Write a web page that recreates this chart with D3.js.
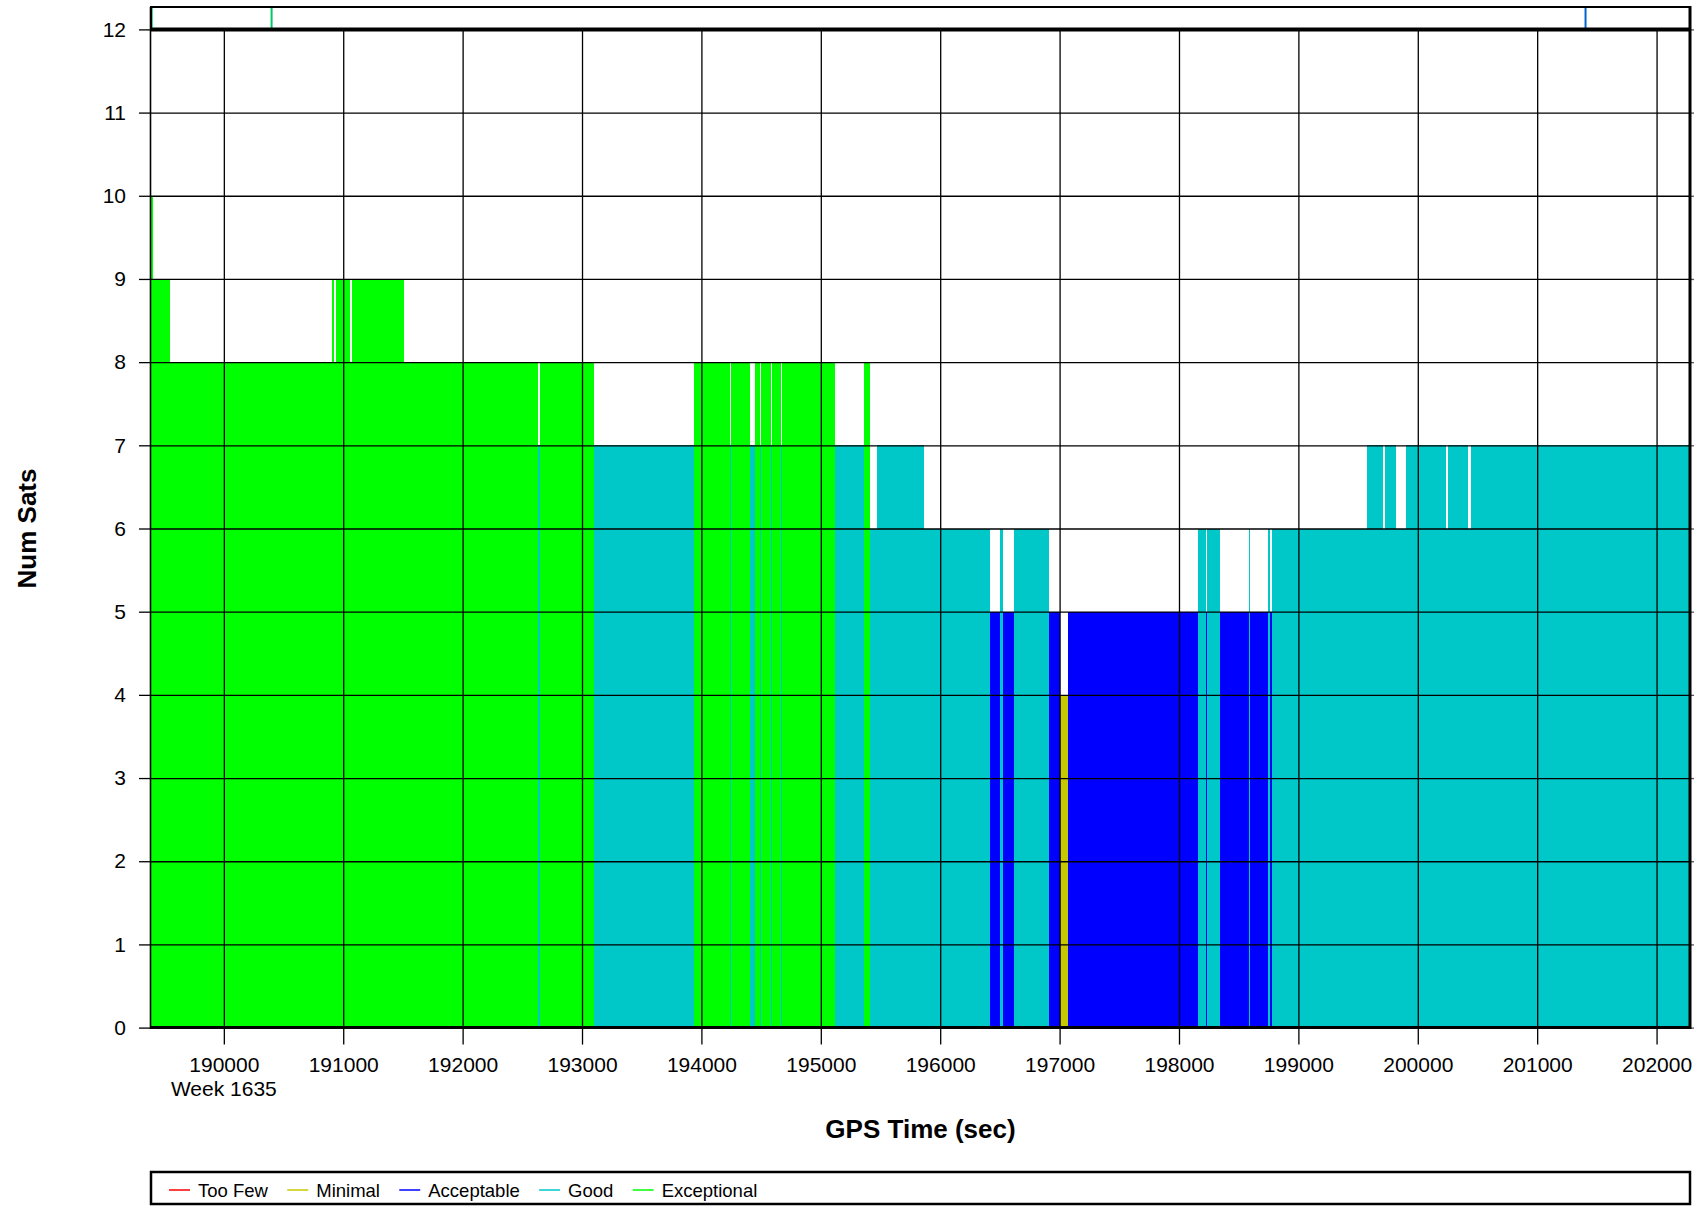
<!DOCTYPE html>
<html>
<head>
<meta charset="utf-8">
<script src="https://cdn.jsdelivr.net/npm/d3@7"></script>
<style>
  body { margin: 0; background: #fff; }
  svg { display: block; font-family: "Liberation Sans", Arial, sans-serif; }
</style>
</head>
<body>
<script>
// each segment runs from segStart[i] to segStart[i+1] (last one to segEnd)
var segStart = [189390, 189404, 189548, 190905, 190921, 190936, 191056, 191070, 191508, 192630,
                192645, 193103, 193939, 194238, 194252, 194407, 194449, 194491, 194500, 194586,
                194594, 194667, 194675, 195122, 195362, 195415, 195471, 195864, 196420, 196503,
                196523, 196618, 196914, 197000, 197070, 198162, 198229, 198237, 198347, 198584,
                198592, 198748, 198760, 198780, 199575, 199709, 199726, 199818, 199902, 200240,
                200257, 200422, 200447];
var segEnd = 202280;
var segSats = [10, 9, 8, 9, 8, 9, 8, 9, 8, 7,
               8, 7, 8, 7, 8, 7, 8, 7, 8, 7,
               8, 7, 8, 7, 8, 6, 7, 6, 5, 6,
               5, 6, 5, 4, 5, 6, 5, 6, 5, 6,
               5, 6, 5, 6, 7, 6, 7, 6, 7, 6,
               7, 6, 7];
var segQuality = ["Exceptional", "Exceptional", "Exceptional", "Exceptional", "Exceptional",
                  "Exceptional", "Exceptional", "Exceptional", "Exceptional", "Good",
                  "Exceptional", "Good", "Exceptional", "Good", "Exceptional",
                  "Good", "Exceptional", "Good", "Exceptional", "Good",
                  "Exceptional", "Good", "Exceptional", "Good", "Exceptional",
                  "Good", "Good", "Good", "Acceptable", "Good",
                  "Acceptable", "Good", "Acceptable", "Minimal", "Acceptable",
                  "Good", "Acceptable", "Good", "Acceptable", "Good",
                  "Acceptable", "Good", "Acceptable", "Good", "Good",
                  "Good", "Good", "Good", "Good", "Good",
                  "Good", "Good", "Good"];

var qualityNames = ["Too Few", "Minimal", "Acceptable", "Good", "Exceptional"];
var qualityColors = ["#ff0000", "#c8c800", "#0000ff", "#00c8c8", "#00ff00"];

var xTicks = [190000, 191000, 192000, 193000, 194000, 195000, 196000,
              197000, 198000, 199000, 200000, 201000, 202000];
var yTicks = [0, 1, 2, 3, 4, 5, 6, 7, 8, 9, 10, 11, 12];
var weekLabel = "Week 1635";

// event marks in the little strip above the plot
var markTimes = [189396, 190400, 201405];
var markColors = ["#00c864", "#00c864", "#0064d2"];

var W = 1707, H = 1206;
var plotL = 151, plotR = 1690, plotT = 29.4, plotB = 1027.6;
var stripT = 7;

var svg = d3.select("body").append("svg")
    .attr("width", W)
    .attr("height", H);

var x = d3.scaleLinear().domain([189390, segEnd]).range([plotL, plotR]);
var y = d3.scaleLinear().domain([0, 12]).range([plotB, plotT]);
var color = d3.scaleOrdinal().domain(qualityNames).range(qualityColors);

var segs = segStart.map(function (s, i) {
    return {
        start: s,
        end: i < segStart.length - 1 ? segStart[i + 1] : segEnd,
        sats: segSats[i],
        q: segQuality[i]
    };
});

// bars
svg.append("g")
    .attr("shape-rendering", "crispEdges")
    .selectAll("rect")
    .data(segs)
    .enter().append("rect")
    .attr("x", function (d) { return x(d.start); })
    .attr("width", function (d) { return Math.max(1, x(d.end) - x(d.start)); })
    .attr("y", function (d) { return y(d.sats); })
    .attr("height", function (d) { return y(0) - y(d.sats); })
    .attr("fill", function (d) { return color(d.q); });

// grid
var gx = svg.append("g")
    .attr("transform", "translate(0," + plotB + ")")
    .call(d3.axisBottom(x).tickValues(xTicks).tickSize(-(plotB - plotT)).tickFormat(""));
gx.select(".domain").remove();
gx.selectAll("line").attr("stroke", "#000").attr("stroke-width", 1.3);

var gy = svg.append("g")
    .attr("transform", "translate(" + plotL + ",0)")
    .call(d3.axisLeft(y).tickValues(yTicks.slice(1, -1)).tickSize(-(plotR - plotL)).tickFormat(""));
gy.select(".domain").remove();
gy.selectAll("line").attr("stroke", "#000").attr("stroke-width", 1.3);

// axes with labels
var xAxis = svg.append("g")
    .attr("transform", "translate(0," + plotB + ")")
    .call(d3.axisBottom(x).tickValues(xTicks).tickSize(17).tickPadding(12).tickFormat(d3.format("d")));
xAxis.select(".domain").remove();
xAxis.selectAll("line").attr("stroke", "#000").attr("stroke-width", 1.3);
xAxis.selectAll("text").attr("font-size", 21).attr("fill", "#000")
    .style("font-family", "'Liberation Sans', Arial, sans-serif");

var yAxis = svg.append("g")
    .attr("transform", "translate(" + plotL + ",0)")
    .call(d3.axisLeft(y).tickValues(yTicks).tickSize(12).tickPadding(13).tickFormat(d3.format("d")));
yAxis.select(".domain").remove();
yAxis.selectAll("line").attr("stroke", "#000").attr("stroke-width", 1.3);
yAxis.selectAll("text").attr("font-size", 21).attr("fill", "#000")
    .style("font-family", "'Liberation Sans', Arial, sans-serif");

var yRight = svg.append("g")
    .attr("transform", "translate(" + plotR + ",0)")
    .call(d3.axisRight(y).tickValues(yTicks).tickSize(4).tickFormat(""));
yRight.select(".domain").remove();
yRight.selectAll("line").attr("stroke", "#555").attr("stroke-width", 1.3);

// strip above the plot
svg.append("g").selectAll("line")
    .data(markTimes)
    .enter().append("line")
    .attr("x1", function (d) { return x(d); })
    .attr("x2", function (d) { return x(d); })
    .attr("y1", stripT)
    .attr("y2", plotT)
    .attr("stroke", function (d, i) { return markColors[i]; })
    .attr("stroke-width", 2);

svg.append("rect")
    .attr("x", plotL).attr("y", stripT)
    .attr("width", plotR - plotL).attr("height", plotT - stripT)
    .attr("fill", "none").attr("stroke", "#000").attr("stroke-width", 2);

// frame
svg.append("line").attr("x1", plotL).attr("x2", plotR).attr("y1", plotT).attr("y2", plotT)
    .attr("stroke", "#000").attr("stroke-width", 4);
svg.append("line").attr("x1", plotL).attr("x2", plotR).attr("y1", plotB).attr("y2", plotB)
    .attr("stroke", "#000").attr("stroke-width", 3);
svg.append("line").attr("x1", plotL - 0.5).attr("x2", plotL - 0.5).attr("y1", stripT).attr("y2", plotB + 1.5)
    .attr("stroke", "#000").attr("stroke-width", 1.6);
svg.append("line").attr("x1", plotR).attr("x2", plotR).attr("y1", stripT - 1).attr("y2", plotB + 1.5)
    .attr("stroke", "#000").attr("stroke-width", 3);

// titles
svg.append("text")
    .attr("x", x(xTicks[0])).attr("y", 1096)
    .attr("text-anchor", "middle").attr("font-size", 21)
    .text(weekLabel);

svg.append("text")
    .attr("x", (plotL + plotR) / 2).attr("y", 1138)
    .attr("text-anchor", "middle").attr("font-size", 26).attr("font-weight", "bold")
    .text("GPS Time (sec)");

svg.append("text")
    .attr("transform", "translate(36," + ((plotT + plotB) / 2) + ") rotate(-90)")
    .attr("text-anchor", "middle").attr("font-size", 26).attr("font-weight", "bold")
    .text("Num Sats");

// legend
svg.append("rect")
    .attr("x", plotL).attr("y", 1172)
    .attr("width", plotR - plotL).attr("height", 32)
    .attr("fill", "none").attr("stroke", "#000").attr("stroke-width", 2.5);

var lx = 169;
qualityNames.forEach(function (name, i) {
    svg.append("line")
        .attr("x1", lx).attr("x2", lx + 21)
        .attr("y1", 1190).attr("y2", 1190)
        .attr("stroke", qualityColors[i]).attr("stroke-width", 1.5);
    var t = svg.append("text")
        .attr("x", lx + 29).attr("y", 1196.5)
        .attr("font-size", 18.5)
        .text(name);
    lx = lx + 29 + t.node().getComputedTextLength() + 19.3;
});
</script>
</body>
</html>
